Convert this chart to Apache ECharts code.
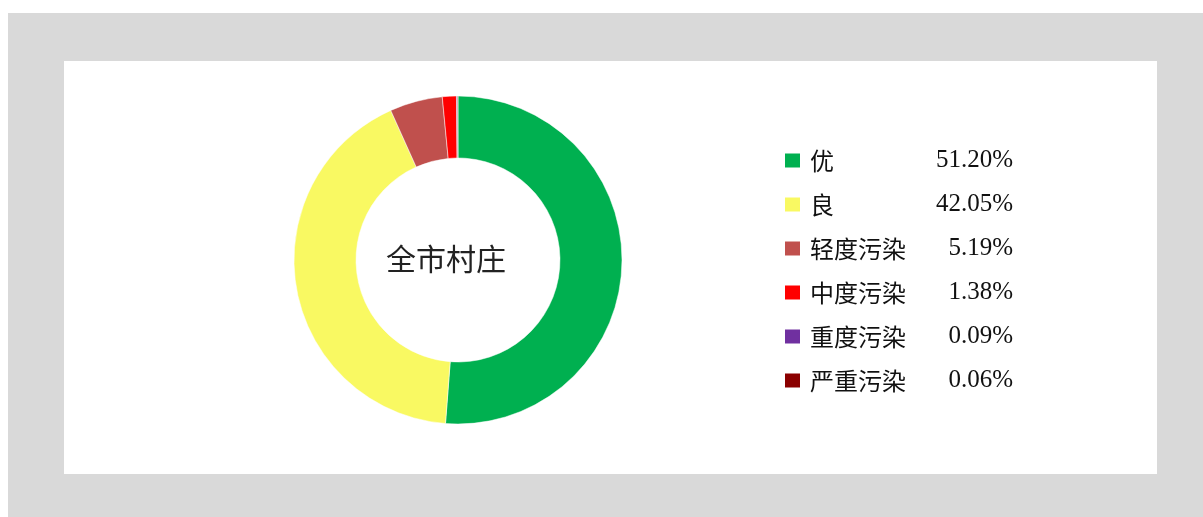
<!DOCTYPE html>
<html>
<head>
<meta charset="utf-8">
<script src="https://cdn.jsdelivr.net/npm/echarts@6/dist/echarts.min.js"></script>
<style>
  html, body { margin: 0; padding: 0; background: #fff; }
  #main { width: 1203px; height: 517px; }
</style>
</head>
<body>
<div id="main"></div>
<script>
// 空气质量等级占比
var levels = ['优', '良', '轻度污染', '中度污染', '重度污染', '严重污染'];
var percents = [51.20, 42.05, 5.19, 1.38, 0.09, 0.06];
var colors = ['#00B050', '#F9F962', '#C0504D', '#FF0000', '#7030A0', '#8B0000'];
var centerText = '全市村庄';

var pieData = levels.map(function (name, i) {
    return { name: name, value: percents[i], itemStyle: { color: colors[i] } };
});

var myChart = echarts.init(document.getElementById('main'));

var option = {
    animation: false,
    backgroundColor: '#fff',
    graphic: [
        // 灰色底
        { type: 'rect', z: -10, shape: { x: 8, y: 13, width: 1195, height: 504 }, style: { fill: '#D9D9D9' } },
        // 白色面板
        { type: 'rect', z: -9, shape: { x: 64, y: 61, width: 1093, height: 413 }, style: { fill: '#fff' } },
        {
            type: 'text', left: 386, top: 244,
            style: { text: centerText, fontSize: 30, fill: '#222', fontFamily: 'Noto Sans CJK SC' }
        }
    ],
    legend: {
        orient: 'vertical',
        left: 783,
        top: 148,
        padding: 0,
        itemWidth: 17,
        itemHeight: 16,
        itemGap: 19,
        icon: 'rect',
        data: levels,
        formatter: function (name) {
            var i = levels.indexOf(name);
            return '{n|' + name + '}{v|' + percents[i].toFixed(2) + '%}';
        },
        textStyle: {
            rich: {
                n: { width: 120, padding: [0, 0, 0, 4], fontSize: 24, lineHeight: 26, color: '#111', fontFamily: 'Noto Sans CJK SC' },
                v: { width: 83, align: 'right', fontSize: 25, lineHeight: 26, color: '#111', fontFamily: 'Liberation Serif' }
            }
        }
    },
    series: [{
        type: 'pie',
        center: [458, 260],
        radius: [102, 164],
        startAngle: 90,
        clockwise: true,
        silent: true,
        label: { show: false },
        labelLine: { show: false },
        itemStyle: { borderColor: '#fff', borderWidth: 0.5 },
        data: pieData
    }]
};

myChart.setOption(option);
</script>
</body>
</html>
